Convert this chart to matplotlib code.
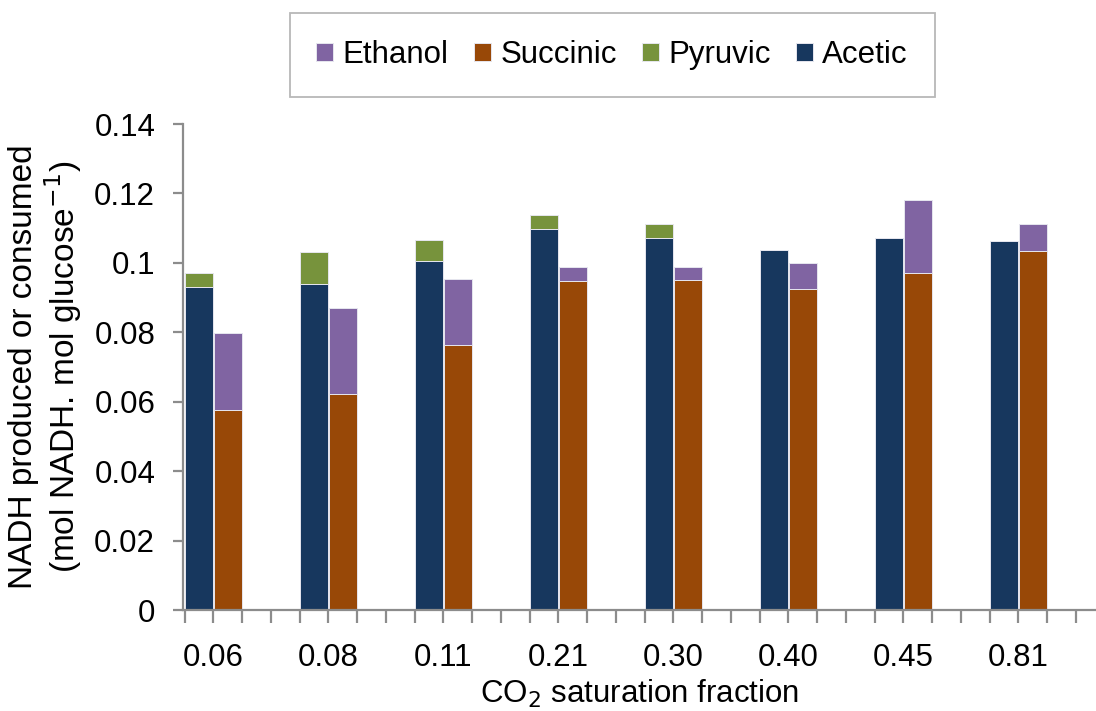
import matplotlib
matplotlib.use("Agg")
import matplotlib.pyplot as plt
import numpy as np

plt.rcParams["font.family"] = ["Liberation Sans", "DejaVu Sans"]

# CO2 saturation fractions (category labels)
categories = ["0.06", "0.08", "0.11", "0.21", "0.30", "0.40", "0.45", "0.81"]

# NADH produced
acetic = [0.093, 0.094, 0.1005, 0.1098, 0.1072, 0.1037, 0.1072, 0.1063]
pyruvic = [0.004, 0.0092, 0.006, 0.004, 0.004, 0.0, 0.0, 0.0]
# NADH consumed
succinic = [0.0576, 0.0622, 0.0763, 0.0948, 0.0951, 0.0925, 0.0971, 0.1034]
ethanol = [0.0222, 0.0248, 0.019, 0.004, 0.0037, 0.0075, 0.021, 0.0078]

colors = {
    "Ethanol": "#8064A2",
    "Succinic": "#984807",
    "Pyruvic": "#77933C",
    "Acetic": "#17375E",
}

fig = plt.figure(figsize=(10.96, 7.11), dpi=100)
ax = fig.add_axes([183 / 1096, 1 - 610 / 711, 1 - 183 / 1096, (610 - 124) / 711])

# each CO2 level takes 4 category slots: acetic/pyruvic, succinic/ethanol, 2 empty
slots_per_group = 4
n = len(categories)
base = np.arange(n) * slots_per_group
width = 0.97
edge = dict(edgecolor="#E6E6EE", linewidth=0.7)

ax.bar(base + 0.5, acetic, width, color=colors["Acetic"], label="Acetic", **edge)
ax.bar(base + 0.5, pyruvic, width, bottom=acetic, color=colors["Pyruvic"], label="Pyruvic", **edge)
ax.bar(base + 1.5, succinic, width, color=colors["Succinic"], label="Succinic", **edge)
ax.bar(base + 1.5, ethanol, width, bottom=succinic, color=colors["Ethanol"], label="Ethanol", **edge)

ax.set_ylim(0, 0.14)
ax.set_xlim(-0.06, 31.7)
ax.set_yticks(np.arange(0, 0.141, 0.02))
ax.set_yticklabels(["0", "0.02", "0.04", "0.06", "0.08", "0.1", "0.12", "0.14"])

ax.xaxis.remove_overlapping_locs = False
ax.set_xticks(np.arange(0, 32))
ax.set_xticklabels([])
ax.set_xticks(base + 1, minor=True)
ax.set_xticklabels(categories, minor=True)

gray = "#8C8C8C"
for side in ("top", "right"):
    ax.spines[side].set_visible(False)
for side in ("left", "bottom"):
    ax.spines[side].set_color(gray)
    ax.spines[side].set_linewidth(1.6)

fs = 22.5
ax.tick_params(axis="y", which="major", direction="out", length=7, width=1.6,
               color=gray, labelsize=fs, pad=13)
ax.tick_params(axis="x", which="major", direction="out", length=9, width=1.6,
               color=gray)
ax.tick_params(axis="x", which="minor", length=0, labelsize=fs, pad=24)

ax.set_xlabel("CO$_2$ saturation fraction", fontsize=fs, labelpad=3)
ax.set_ylabel("NADH produced or consumed\n(mol NADH. mol glucose$^{-1}$)",
              fontsize=24, labelpad=7, linespacing=1.1)

handles, labels = ax.get_legend_handles_labels()
order = ["Ethanol", "Succinic", "Pyruvic", "Acetic"]
hmap = dict(zip(labels, handles))
leg = fig.legend([hmap[k] for k in order], order, loc="center",
                 bbox_to_anchor=(612 / 1096, 1 - 55 / 711), ncol=4,
                 fontsize=fs, frameon=True, fancybox=False,
                 handlelength=0.55, handleheight=0.55, handletextpad=0.3,
                 columnspacing=0.8, borderpad=0.85)
leg.get_frame().set_edgecolor("#A6A6A6")
leg.get_frame().set_linewidth(1.3)

fig.savefig("out.png", dpi=100)
